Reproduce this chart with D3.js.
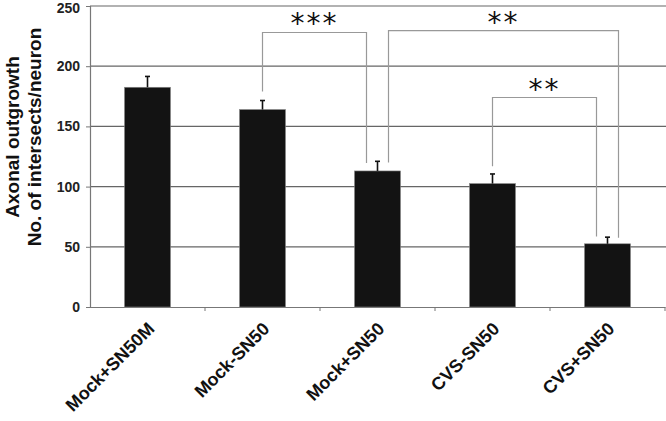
<!DOCTYPE html>
<html>
<head>
<meta charset="utf-8">
<script src="https://cdn.jsdelivr.net/npm/d3@7"></script>
<style>
  html, body { margin: 0; padding: 0; background: #fff; }
  svg { display: block; font-family: "Liberation Sans", Arial, sans-serif; }
</style>
</head>
<body>
<svg id="chart"></svg>
<script>
const categories = ['Mock+SN50M', 'Mock-SN50', 'Mock+SN50', 'CVS-SN50', 'CVS+SN50'];
const means = [182.5, 164, 113, 102.5, 52.5];
const errors = [9, 7.5, 8, 8, 5.5];
const yTicks = [0, 50, 100, 150, 200, 250];

// significance brackets: categories joined, leg side offsets, top value, leg end values
const bracketPairs = [[1, 2], [2, 4], [3, 4]];
const bracketSides = [[0, -1], [1, 1], [0, -1]];
const bracketTops = [228, 229.5, 174];
const bracketEnds = [[179, 119.5], [120, 57.5], [117, 58.5]];
const bracketLabels = ['***', '**', '**'];

const W = 666, H = 421;
const svg = d3.select('#chart').attr('width', W).attr('height', H);

const x = d3.scaleBand().domain(categories).range([90, 665]).padding(0);
const y = d3.scaleLinear().domain([0, 250]).range([307, 6]);
const barW = x.bandwidth() * 0.4;
const cx = c => x(c) + x.bandwidth() / 2;

// gridlines
svg.append('g')
  .selectAll('line')
  .data(yTicks.filter(d => d > 0))
  .join('line')
  .attr('x1', 90).attr('x2', W)
  .attr('y1', d => y(d)).attr('y2', d => y(d))
  .attr('stroke', '#666').attr('stroke-width', 1.2);

// y axis
const yAxisG = svg.append('g').attr('transform', 'translate(90,0)')
  .call(d3.axisLeft(y).tickValues(yTicks).tickSize(4).tickPadding(6));
yAxisG.select('.domain').attr('stroke', '#777').attr('stroke-width', 1.2);
yAxisG.selectAll('.tick line').attr('stroke', '#777');
yAxisG.selectAll('.tick text')
  .attr('font-size', 14).attr('font-weight', 'bold').attr('fill', '#222')
  .attr('font-family', '"Liberation Sans", Arial, sans-serif')
  .attr('dy', d => d === 250 ? '0.45em' : '0.32em');

// x axis
const xAxisG = svg.append('g').attr('transform', 'translate(0,307)')
  .call(d3.axisBottom(x).tickSize(0).tickFormat(''));
xAxisG.select('.domain').attr('stroke', '#777').attr('stroke-width', 1.2);
xAxisG.selectAll('.bound')
  .data(categories)
  .join('line')
  .attr('class', 'bound')
  .attr('x1', d => x(d) + x.bandwidth()).attr('x2', d => x(d) + x.bandwidth())
  .attr('y1', 0).attr('y2', 4)
  .attr('stroke', '#777');

// x labels
svg.append('g')
  .selectAll('text')
  .data(categories)
  .join('text')
  .attr('transform', d => `translate(${cx(d) + 8},330) rotate(-45)`)
  .attr('text-anchor', 'end')
  .attr('font-size', 18).attr('font-weight', 'bold').attr('fill', '#111')
  .text(d => d);

// bars
svg.append('g')
  .selectAll('rect')
  .data(categories)
  .join('rect')
  .attr('x', d => cx(d) - barW / 2)
  .attr('width', barW)
  .attr('y', (d, i) => y(means[i]))
  .attr('height', (d, i) => y(0) - y(means[i]))
  .attr('fill', '#131313')
  .attr('stroke', '#888').attr('stroke-width', 0.6);

// error bars
const errG = svg.append('g').attr('stroke', '#111').attr('stroke-width', 1.6);
categories.forEach((c, i) => {
  errG.append('line')
    .attr('x1', cx(c)).attr('x2', cx(c))
    .attr('y1', y(means[i])).attr('y2', y(means[i] + errors[i]));
  errG.append('line')
    .attr('x1', cx(c) - 2.5).attr('x2', cx(c) + 2.5)
    .attr('y1', y(means[i] + errors[i])).attr('y2', y(means[i] + errors[i]));
});

// significance brackets
const brG = svg.append('g');
bracketPairs.forEach((p, i) => {
  const x1 = cx(categories[p[0]]) + bracketSides[i][0] * 11;
  const x2 = cx(categories[p[1]]) + bracketSides[i][1] * 11;
  const yt = y(bracketTops[i]);
  brG.append('path')
    .attr('d', `M${x1},${y(bracketEnds[i][0])}V${yt}H${x2}V${y(bracketEnds[i][1])}`)
    .attr('fill', 'none').attr('stroke', '#999').attr('stroke-width', 1.2);
  brG.append('text')
    .attr('x', (x1 + x2) / 2).attr('y', yt - 20)
    .attr('dy', '0.75em')
    .attr('text-anchor', 'middle')
    .attr('font-family', '"DejaVu Sans", sans-serif')
    .attr('font-size', 28)
    .attr('letter-spacing', 2)
    .attr('fill', '#111')
    .text(bracketLabels[i]);
});

// y axis title
const yTitle = svg.append('text')
  .attr('transform', 'translate(0,137) rotate(-90)')
  .attr('text-anchor', 'middle')
  .attr('font-size', 19).attr('font-weight', 'bold').attr('fill', '#111');
yTitle.append('tspan').attr('x', 0).attr('y', 19).text('Axonal outgrowth');
yTitle.append('tspan').attr('x', 0).attr('y', 41).text('No. of intersects/neuron');
</script>
</body>
</html>
